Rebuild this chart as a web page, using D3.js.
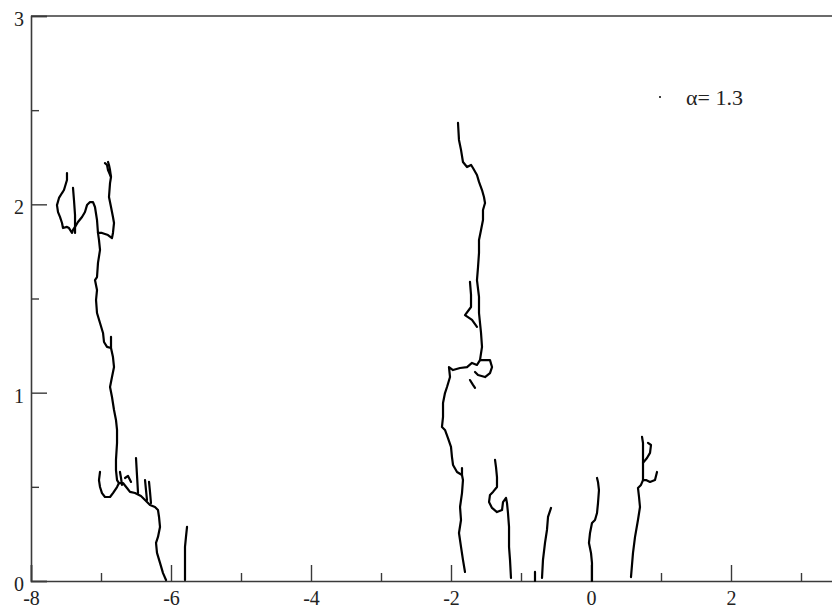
<!DOCTYPE html>
<html><head><meta charset="utf-8">
<script src="https://cdn.jsdelivr.net/npm/d3@7"></script>
<style>html,body{margin:0;padding:0;background:#fff;overflow:hidden}</style>
</head><body>
<svg id="chart" width="832" height="611"></svg>
<script>
// ---- data ----
const xMajorTicks = [-8, -6, -4, -2, 0, 2];
const xMinorTicks = [-7, -5, -3, -1, 1, 3];
const yMajorTicks = [0, 1, 2, 3];
const yMinorTicks = [0.5, 1.5, 2.5];
const legendLabel = "\u03b1= 1.3";

// left cluster: trunk from base up to top right column
const treeA_trunk = [[-6.071,0.005],[-6.114,0.042],[-6.157,0.096],[-6.2,0.149],[-6.214,0.202],[-6.186,0.234],[-6.157,0.287],[-6.171,0.34],[-6.186,0.377],[-6.229,0.393],[-6.3,0.404],[-6.371,0.43],[-6.429,0.451],[-6.514,0.467],[-6.586,0.473],[-6.629,0.494],[-6.686,0.52],[-6.743,0.52],[-6.771,0.536],[-6.786,0.589],[-6.786,0.643],[-6.771,0.733],[-6.771,0.802],[-6.786,0.855],[-6.814,0.908],[-6.843,0.977],[-6.871,1.03],[-6.843,1.083],[-6.814,1.136],[-6.829,1.189],[-6.857,1.237],[-6.914,1.243],[-6.957,1.269],[-6.971,1.317],[-7.014,1.37],[-7.057,1.423],[-7.071,1.492],[-7.057,1.545],[-7.086,1.598],[-7.057,1.614],[-7.043,1.689],[-7.014,1.758],[-7.029,1.811],[-7.043,1.848],[-6.986,1.848],[-6.9,1.837],[-6.843,1.821],[-6.829,1.848],[-6.814,1.901],[-6.829,1.933],[-6.857,1.986],[-6.886,2.039],[-6.871,2.113],[-6.857,2.145],[-6.9,2.182],[-6.914,2.209],[-6.943,2.219]];
const treeA_top = [[-7.043,1.848],[-7.057,1.917],[-7.086,1.986],[-7.114,2.012],[-7.157,2.012],[-7.2,1.996],[-7.229,1.959],[-7.271,1.933],[-7.329,1.906],[-7.371,1.88],[-7.4,1.864],[-7.414,1.848],[-7.457,1.874],[-7.486,1.88],[-7.543,1.874],[-7.557,1.901],[-7.586,1.933],[-7.614,1.959],[-7.629,1.996],[-7.6,2.034],[-7.557,2.06],[-7.529,2.076],[-7.486,2.129],[-7.486,2.166]];
const treeA_spike1 = [[-7.4,2.087],[-7.386,2.023],[-7.371,1.943],[-7.371,1.848]];
const treeA_spike2 = [[-6.857,2.145],[-6.871,2.182],[-6.886,2.209],[-6.9,2.225]];
const treeA_spike3 = [[-6.857,1.237],[-6.857,1.264],[-6.857,1.296]];
const treeA_low = [[-6.743,0.52],[-6.771,0.499],[-6.829,0.467],[-6.871,0.446],[-6.943,0.446],[-6.986,0.467],[-7.014,0.499],[-7.029,0.536],[-7.014,0.579]];
const treeA_spike4 = [[-6.5,0.653],[-6.486,0.563],[-6.471,0.467]];
const treeA_spike5 = [[-6.371,0.536],[-6.357,0.483],[-6.343,0.43]];
const treeA_spike6 = [[-6.314,0.526],[-6.3,0.473],[-6.286,0.414]];
const treeA_spike7 = [[-6.729,0.579],[-6.714,0.547],[-6.7,0.51]];
const treeA_spike8 = [[-6.657,0.547],[-6.614,0.558],[-6.571,0.526]];
const treeB = [[-5.8,0.005],[-5.8,0.085],[-5.8,0.181],[-5.786,0.234],[-5.771,0.287]];

// middle cluster
const treeC_trunk = [[-1.8,0.048],[-1.829,0.112],[-1.857,0.181],[-1.886,0.255],[-1.857,0.324],[-1.871,0.393],[-1.843,0.467],[-1.829,0.536],[-1.843,0.563],[-1.914,0.579],[-1.971,0.616],[-1.986,0.658],[-2.0,0.712],[-2.043,0.759],[-2.086,0.802],[-2.129,0.818],[-2.114,0.871],[-2.114,0.945],[-2.086,0.998],[-2.057,1.03],[-2.014,1.083],[-2.029,1.136],[-1.971,1.12],[-1.871,1.131],[-1.771,1.136],[-1.7,1.158],[-1.629,1.147],[-1.586,1.173],[-1.557,1.243],[-1.571,1.317],[-1.6,1.423],[-1.6,1.508],[-1.629,1.598],[-1.614,1.667],[-1.6,1.742],[-1.6,1.811],[-1.571,1.864],[-1.543,1.917],[-1.543,1.97],[-1.514,2.007],[-1.529,2.039],[-1.557,2.076],[-1.6,2.119],[-1.629,2.156],[-1.686,2.193],[-1.714,2.209],[-1.771,2.198],[-1.829,2.225],[-1.857,2.289],[-1.886,2.342],[-1.9,2.432]];
const treeC_branch1 = [[-1.729,1.588],[-1.714,1.519],[-1.714,1.455],[-1.8,1.412],[-1.7,1.386],[-1.629,1.349]];
const treeC_branch2 = [[-1.586,1.173],[-1.443,1.173],[-1.414,1.136],[-1.443,1.104],[-1.514,1.083],[-1.614,1.094],[-1.657,1.11]];
const treeC_piece = [[-1.729,1.067],[-1.686,1.041],[-1.657,1.025]];
const treeC_spike = [[-1.843,0.563],[-1.843,0.6]];
const treeD = [[-1.143,0.016],[-1.157,0.112],[-1.171,0.181],[-1.171,0.287],[-1.186,0.361],[-1.2,0.414],[-1.214,0.441],[-1.257,0.419],[-1.271,0.377],[-1.343,0.366],[-1.414,0.388],[-1.457,0.419],[-1.443,0.457],[-1.4,0.473],[-1.343,0.499],[-1.343,0.552],[-1.357,0.605],[-1.371,0.643]];
const treeE = [[-0.7,0.016],[-0.686,0.112],[-0.657,0.202],[-0.629,0.271],[-0.614,0.34],[-0.571,0.388]];
const stubE = [[-0.8,0.0],[-0.8,0.048]];
const treeF = [[0.014,0.0],[0.014,0.096],[0.0,0.149],[-0.029,0.202],[-0.014,0.255],[0.014,0.308],[0.057,0.324],[0.086,0.361],[0.1,0.414],[0.114,0.483],[0.1,0.526],[0.086,0.547]];
const treeG = [[0.571,0.021],[0.6,0.149],[0.629,0.234],[0.671,0.324],[0.7,0.393],[0.686,0.446],[0.671,0.494],[0.714,0.51],[0.743,0.536],[0.743,0.616],[0.743,0.68],[0.743,0.733],[0.729,0.765]];
const treeG_branch1 = [[0.743,0.536],[0.786,0.536],[0.843,0.526],[0.914,0.536],[0.943,0.579]];
const treeG_branch2 = [[0.743,0.627],[0.8,0.653],[0.843,0.68],[0.857,0.722],[0.814,0.733]];

const traces = [treeA_trunk, treeA_top, treeA_spike1, treeA_spike2, treeA_spike3, treeA_low,
  treeA_spike4, treeA_spike5, treeA_spike6, treeA_spike7, treeA_spike8, treeB,
  treeC_trunk, treeC_branch1, treeC_branch2, treeC_piece, treeC_spike,
  treeD, treeE, stubE, treeF, treeG, treeG_branch1, treeG_branch2];

// ---- drawing ----
const svg = d3.select("#chart");
const x = d3.scaleLinear().domain([-8, 4]).range([31, 871]);
const y = d3.scaleLinear().domain([0, 3]).range([581, 16]);
const axisColor = "#3a3a3a";
const font = "'Liberation Serif', 'Times New Roman', serif";

// frame top line
svg.append("line").attr("x1", x(-8)).attr("x2", x(4)).attr("y1", y(3)).attr("y2", y(3))
  .attr("stroke", axisColor).attr("stroke-width", 1.6);

// x axis (ticks inward)
const gx = svg.append("g").attr("transform", `translate(0,${y(0)})`);
gx.call(d3.axisBottom(x).tickValues(xMajorTicks).tickSize(-16).tickPadding(10)
  .tickFormat(d => d < 0 ? "-" + Math.abs(d) : String(d)));
gx.selectAll(".tick text").attr("font-family", font).attr("font-size", 20).attr("fill", "#222");
const gxm = gx.append("g");
gxm.call(d3.axisBottom(x).tickValues(xMinorTicks).tickSize(-8).tickFormat(""));
gxm.select(".domain").remove();
gx.selectAll(".domain").attr("stroke", axisColor).attr("stroke-width", 1.6);
gx.selectAll(".tick line").attr("stroke", axisColor).attr("stroke-width", 1.4);

// y axis (ticks inward)
const gy = svg.append("g").attr("transform", `translate(${x(-8)},0)`);
gy.call(d3.axisLeft(y).tickValues(yMajorTicks).tickSize(-16).tickPadding(7).tickFormat(d3.format("d")));
gy.selectAll(".tick text").attr("font-family", font).attr("font-size", 20).attr("fill", "#222")
  .attr("dy", "0.47em");
const gym = gy.append("g");
gym.call(d3.axisLeft(y).tickValues(yMinorTicks).tickSize(-8).tickFormat(""));
gym.select(".domain").remove();
gy.selectAll(".domain").attr("stroke", axisColor).attr("stroke-width", 1.6);
gy.selectAll(".tick line").attr("stroke", axisColor).attr("stroke-width", 1.4);

// traces
const line = d3.line().x(d => x(d[0])).y(d => y(d[1]));
svg.append("g").selectAll("path").data(traces).join("path")
  .attr("d", line).attr("fill", "none").attr("stroke", "#000")
  .attr("stroke-width", 2.2).attr("stroke-linejoin", "round").attr("stroke-linecap", "round");

// legend
svg.append("circle").attr("cx", 660).attr("cy", 97).attr("r", 1).attr("fill", "#000");
svg.append("text").attr("x", 686).attr("y", 105).attr("font-family", font).attr("font-size", 22)
  .attr("fill", "#222").text(legendLabel);
</script>
</body></html>
